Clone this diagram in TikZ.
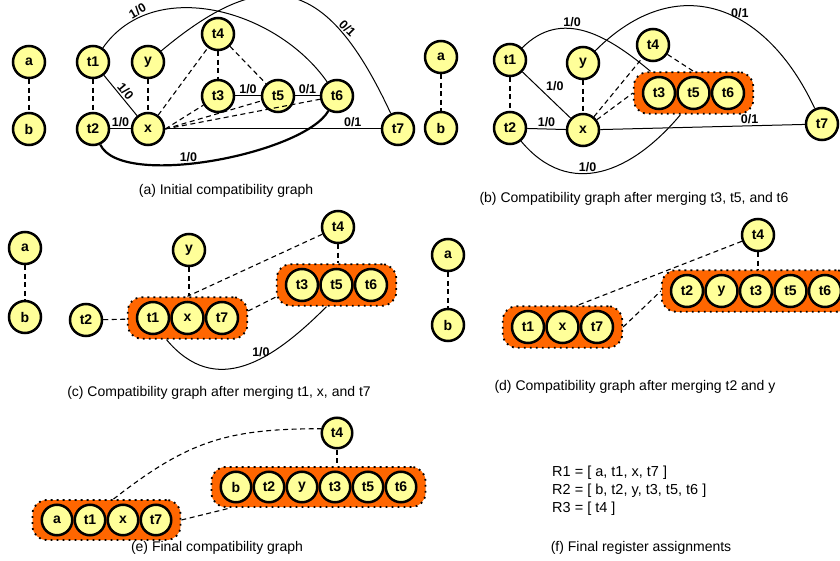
\documentclass[tikz,border=0pt]{standalone}
\usepackage{fontspec}
\setmainfont{Liberation Sans}
\usetikzlibrary{positioning, fit, backgrounds}

\definecolor{varyellow}{RGB}{255,255,153}
\definecolor{mergeorange}{RGB}{255,102,0}

\tikzset{
  var/.style={circle, draw, line width=2.5pt, fill=varyellow, minimum size=32pt,
    inner sep=0pt, font=\fontsize{14}{14}\selectfont\bfseries},
  merged/.style={draw, fill=mergeorange, rounded corners=14pt, line width=1.8pt,
    dash pattern=on 1.8pt off 4.2pt, inner xsep=8pt, inner ysep=3.5pt},
  dashedge/.style={line width=1.1pt, dash pattern=on 5pt off 3.5pt},
  weighted/.style={line width=1pt},
  wlabel/.style={font=\fontsize{12.5}{13}\selectfont\bfseries, inner sep=1.5pt},
  caption/.style={font=\fontsize{14}{16}\selectfont}
}

\begin{document}
\begin{tikzpicture}[x=1pt, y=-1pt]
  \useasboundingbox (0,0) rectangle (840,561);

  %% (a) initial graph
  \foreach \n/\px/\py in {a/29/62, b/29/129, t1/93/62, y/148/62, t2/93/129, x/148/129,
      t4/218/34, t3/218/96, t5/278/96, t6/337/96, t7/398/129}
    \node[var] (A-\n) at (\px,\py) {\n};
  \draw[dashedge] (A-a) -- (A-b);
  \draw[dashedge] (A-t1) -- (A-t2);
  \draw[dashedge] (A-y) -- (A-x);
  \draw[dashedge] (A-t4) -- (A-t3);
  \draw[dashedge] (A-t4) -- (A-t5);
  \draw[dashedge] (A-x) -- (A-t4);
  \foreach \n in {t3, t5, t6}
    \draw[dashedge] (A-x.east) -- (A-\n);
  \draw[weighted] (A-t1) -- node[wlabel, rotate=-50, anchor=south] {1/0} (A-x);
  \draw[weighted] (A-t2) -- node[wlabel, above] {1/0} (A-x);
  \draw[weighted] (A-t3) -- node[wlabel, above] {1/0} (A-t5);
  \draw[weighted] (A-t5) -- node[wlabel, above] {0/1} (A-t6);
  \draw[weighted] (A-x.east) -- node[wlabel, above, pos=0.87] {0/1} (A-t7);
  \draw[weighted] (A-t1) to[out=55, in=125]
    node[wlabel, rotate=30, anchor=south, pos=0.2] {1/0} (A-t6);
  \draw[weighted] (A-y) to[out=40, in=115, looseness=1.55]
    node[wlabel, rotate=-45, anchor=south, pos=0.74] {0/1} (A-t7);
  \draw[weighted, line width=2.2pt] (A-t2) to[out=-65, in=-120, looseness=0.55]
    node[wlabel, above, pos=0.42] {1/0} (A-t6);
  \node[caption] (capA) at (226,191) {(a) Initial compatibility graph};

  %% (b) t3, t5, t6 merged
  \foreach \n/\px/\py in {a/441/57, b/441/128, t1/510/60, y/583/63, t4/653/45,
      t2/510/128, x/583/130, t7/822/124, t3/659/93}
    \node[var] (B-\n) at (\px,\py) {\n};
  \foreach \prev/\n in {t3/t5, t5/t6}
    \node[var, right=0pt of B-\prev] (B-\n) {\n};
  \begin{scope}[on background layer]
    \node[merged, fit=(B-t3)(B-t6)] (B-m) {};
  \end{scope}
  \draw[dashedge] (B-a) -- (B-b);
  \draw[dashedge] (B-t1) -- (B-t2);
  \draw[dashedge] (B-y) -- (B-x);
  \draw[dashedge] (B-x) -- (B-t4);
  \draw[dashedge] (B-x) -- (B-m.west);
  \draw[dashedge] (B-t4) -- (B-m.north);
  \draw[weighted] (B-t1) -- node[wlabel, above right, pos=0.45] {1/0} (B-x);
  \draw[weighted] (B-t2) -- node[wlabel, above] {1/0} (B-x);
  \draw[weighted] (B-x) -- node[wlabel, above, pos=0.73] {0/1} (B-t7);
  \draw[weighted] (B-t1) to[out=45, in=140, looseness=1.1]
    node[wlabel, above, pos=0.4] {1/0} ([xshift=-43pt]B-m.north);
  \draw[weighted] (B-y) to[out=45, in=115, looseness=1.3]
    node[wlabel, above, pos=0.6] {0/1} (B-t7);
  \draw[weighted] (B-t2) to[out=-50, in=-130, looseness=1.2]
    node[wlabel, above, pos=0.42] {1/0} ([xshift=-13pt]B-m.south);
  \node[caption] (capB) at (634,199) {(b) Compatibility graph after merging t3, t5, and t6};

  %% (c) t1, x, t7 merged
  \foreach \n/\px/\py in {a/25/248, b/25/317, t2/86/320, y/189/250, t4/338/227,
      t1/153/318, t3/302/285}
    \node[var] (C-\n) at (\px,\py) {\n};
  \foreach \prev/\n in {t1/x, x/t7, t3/t5, t5/t6}
    \node[var, right=0pt of C-\prev] (C-\n) {\n};
  \begin{scope}[on background layer]
    \node[merged, fit=(C-t1)(C-t7)] (C-m1) {};
    \node[merged, fit=(C-t3)(C-t6)] (C-m2) {};
  \end{scope}
  \draw[dashedge] (C-a) -- (C-b);
  \draw[dashedge] (C-t2) -- (C-m1);
  \draw[dashedge] (C-y) -- (C-y |- C-m1.north);
  \draw[dashedge] (C-t4) -- (C-m1.north);
  \draw[dashedge] (C-t4) -- (C-t4 |- C-m2.north);
  \draw[dashedge] ([yshift=7pt]C-m1.east) -- ([yshift=-12pt]C-m2.west);
  \draw[weighted] ([xshift=-21pt]C-m1.south) to[out=-50, in=-135, looseness=1.2]
    node[wlabel, above, pos=0.6] {1/0} ([xshift=-10pt]C-m2.south);
  \node[caption] (capC) at (219,393) {(c) Compatibility graph after merging t1, x, and t7};

  %% (d) t2, y merged
  \foreach \n/\px/\py in {a/448/255, b/448/325, t4/758/235, t1/528/327, t2/687/291}
    \node[var] (D-\n) at (\px,\py) {\n};
  \foreach \prev/\n in {t1/x, x/t7, t2/y, y/t3, t3/t5, t5/t6}
    \node[var, right=0pt of D-\prev] (D-\n) {\n};
  \begin{scope}[on background layer]
    \node[merged, fit=(D-t1)(D-t7)] (D-m1) {};
    \node[merged, fit=(D-t2)(D-t6)] (D-m2) {};
  \end{scope}
  \draw[dashedge] (D-a) -- (D-b);
  \draw[dashedge] (D-t4) -- ([xshift=15pt]D-m1.north);
  \draw[dashedge] (D-t4) -- (D-t4 |- D-m2.north);
  \draw[dashedge] (D-m1.east) -- (D-m2.west);
  \node[caption] (capD) at (635,387) {(d) Compatibility graph after merging t2 and y};

  %% (e) final graph, two registers plus t4
  \begin{scope}[var/.append style={minimum size=30.5pt}]
    \foreach \n/\px/\py in {t4/337/433, a/57/520, b/236/487}
      \node[var] (E-\n) at (\px,\py) {\n};
    \foreach \prev/\n in {a/t1, t1/x, x/t7, b/t2, t2/y, y/t3, t3/t5, t5/t6}
      \node[var, right=0pt of E-\prev] (E-\n) {\n};
  \end{scope}
  \begin{scope}[on background layer]
    \node[merged, fit=(E-a)(E-t7)] (E-m1) {};
    \node[merged, fit=(E-b)(E-t6)] (E-m2) {};
  \end{scope}
  \draw[dashedge] ([xshift=7pt]E-m1.north) to[out=38, in=180, looseness=1.1] (E-t4.165);
  \draw[dashedge] (E-t4) -- (E-t4 |- E-m2.north);
  \draw[dashedge] (E-m1.east) -- ([xshift=20pt]E-m2.south west);
  \node[caption] (capE) at (217,548) {(e) Final compatibility graph};

  %% (f) register assignments
  \node[anchor=west, align=left, inner sep=0pt, font=\fontsize{14.5}{18}\selectfont]
    (regs) at (552,491) {R1 = [ a, t1, x, t7 ]\\R2 = [ b, t2, y, t3, t5, t6 ]\\R3 = [ t4 ]};
  \node[caption] (capF) at (641,548) {(f) Final register assignments};
\end{tikzpicture}
\end{document}
